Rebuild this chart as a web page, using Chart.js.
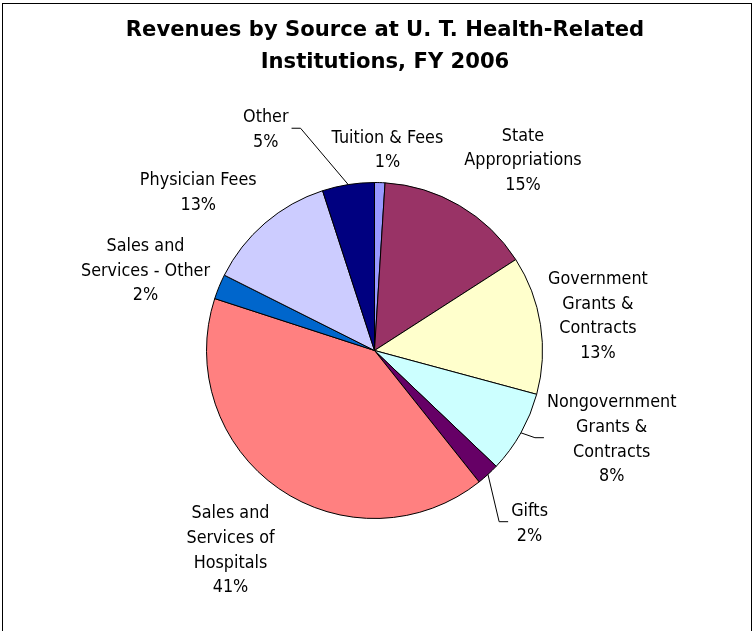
<!DOCTYPE html>
<html>
<head>
<meta charset="utf-8">
<script src="https://cdn.jsdelivr.net/npm/chart.js@4/dist/chart.umd.min.js"></script>
<style>
  html, body { margin: 0; padding: 0; background: #fff; }
</style>
</head>
<body>
<canvas id="revChart" width="754" height="631"></canvas>
<script>
const titleLines = ['Revenues by Source at U. T. Health-Related', 'Institutions, FY 2006'];

const categories = [
  'Tuition & Fees', 'State Appropriations', 'Government Grants & Contracts',
  'Nongovernment Grants & Contracts', 'Gifts', 'Sales and Services of Hospitals',
  'Sales and Services - Other', 'Physician Fees', 'Other'
];
// share of revenue, percent
const values = [1.0, 14.9, 13.3, 7.9, 2.2, 40.7, 2.4, 12.6, 5.0];

const sliceColors = ['#9999FF', '#993366', '#FFFFCC', '#CCFFFF', '#660066', '#FF8080', '#0066CC', '#CCCCFF', '#000080'];

// how each label is broken over lines
const labelLines = [
  ['Tuition & Fees'], ['State', 'Appropriations'], ['Government', 'Grants &', 'Contracts'],
  ['Nongovernment', 'Grants &', 'Contracts'], ['Gifts'], ['Sales and', 'Services of', 'Hospitals'],
  ['Sales and', 'Services - Other'], ['Physician Fees'], ['Other']
];
// label block centres, in pie radii from the pie centre
const labelSpots = [
  [0.077, -1.202], [0.884, -1.141], [1.330, -0.214], [1.412, 0.519], [0.923, 1.019],
  [-0.857, 1.180], [-1.363, -0.484], [-1.049, -0.948], [-0.647, -1.323]
];
const leaders = [false, false, false, true, true, false, false, false, true];

const lineGap = 24.7;
const textSqueeze = 0.89;

const labelPlugin = {
  id: 'sliceLabels',
  beforeDraw(chart) {
    const ctx = chart.ctx;
    ctx.save();
    ctx.fillStyle = '#fff';
    ctx.fillRect(0, 0, chart.width, chart.height);
    ctx.restore();
  },
  afterDraw(chart) {
    const ctx = chart.ctx;
    ctx.save();
    ctx.fillStyle = '#000';
    ctx.strokeStyle = '#000';
    ctx.lineWidth = 1;
    ctx.textBaseline = 'alphabetic';
    ctx.textAlign = 'center';

    // outer frame
    ctx.strokeRect(2.5, 3.5, 749, 700);

    // title (baselines)
    ctx.font = 'bold 22px "DejaVu Sans"';
    titleLines.forEach((s, k) => {
      ctx.save();
      ctx.translate(385, 36 + k * 31.5);
      ctx.scale(0.96, 1);
      ctx.fillText(s, 0, 0);
      ctx.restore();
    });

    // slice labels
    ctx.font = '18px "DejaVu Sans"';
    const capHalf = 18 * 0.729 / 2;
    const total = values.reduce((a, b) => a + b, 0);
    const arcs = chart.getDatasetMeta(0).data;
    arcs.forEach((arc, i) => {
      const r = arc.outerRadius;
      const cx = arc.x, cy = arc.y;
      const lines = labelLines[i].concat(Math.round(values[i] / total * 100) + '%');
      const bx = cx + labelSpots[i][0] * r;
      const by = cy + labelSpots[i][1] * r;
      const top = by - (lines.length - 1) * lineGap / 2;
      let w = 0;
      lines.forEach((s, k) => {
        w = Math.max(w, ctx.measureText(s).width * textSqueeze);
        ctx.save();
        ctx.translate(bx, top + k * lineGap + capHalf);
        ctx.scale(textSqueeze, 1);
        ctx.fillText(s, 0, 0);
        ctx.restore();
      });
      if (leaders[i]) {
        const mid = (arc.startAngle + arc.endAngle) / 2;
        const sx = cx + Math.cos(mid) * r, sy = cy + Math.sin(mid) * r;
        const side = bx > cx ? -1 : 1;
        const ex = bx + side * (w / 2 + 3);
        const kx = ex + side * 9;
        ctx.beginPath();
        ctx.moveTo(sx, sy);
        ctx.lineTo(kx, by);
        ctx.lineTo(ex, by);
        ctx.stroke();
      }
    });
    ctx.restore();
  }
};

new Chart(document.getElementById('revChart'), {
  type: 'pie',
  data: {
    labels: categories,
    datasets: [{
      data: values,
      backgroundColor: sliceColors,
      borderColor: '#000',
      borderWidth: 1
    }]
  },
  options: {
    responsive: false,
    animation: false,
    layout: { padding: { left: 206, right: 211, top: 182, bottom: 112 } },
    plugins: {
      legend: { display: false },
      tooltip: { enabled: false },
      title: { display: false }
    }
  },
  plugins: [labelPlugin]
});
</script>
</body>
</html>
